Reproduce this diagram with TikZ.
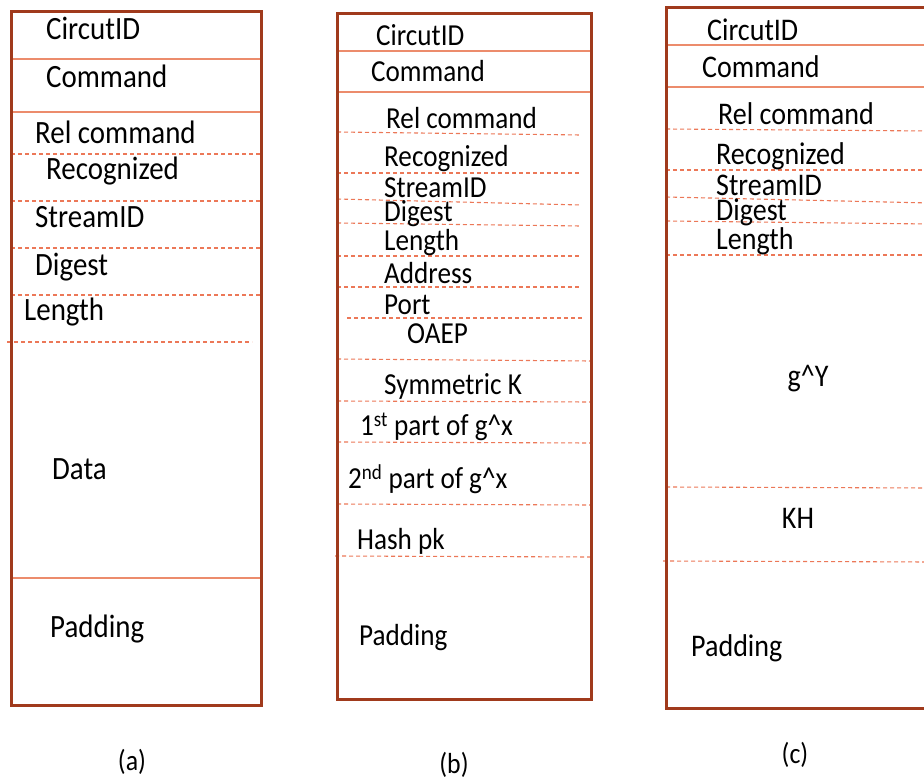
\documentclass[tikz,border=0pt]{standalone}
\usepackage{fontspec}
\setmainfont{Carlito}[FakeStretch=0.89]
\definecolor{bord}{RGB}{160,58,28}
\definecolor{sep}{RGB}{236,140,108}
\definecolor{dsh}{RGB}{236,120,88}
\begin{document}
\begin{tikzpicture}[x=1pt,y=-1pt,
  frame/.style={draw=bord,line width=3pt},
  solidsep/.style={draw=sep,line width=1.4pt},
  dashsep/.style={draw=dsh,line width=1.1pt,dash pattern=on 4pt off 3pt},
  lab/.style={anchor=west,inner sep=0pt,font=\fontsize{32.5}{33}\selectfont},
  labb/.style={anchor=west,inner sep=0pt,font=\fontsize{30.5}{31}\selectfont},
  labc/.style={anchor=west,inner sep=0pt,font=\fontsize{31.5}{32}\selectfont},
  captxt/.style={inner sep=0pt,font=\fontsize{29}{30}\selectfont}]
\useasboundingbox (0,0) rectangle (924,783);
\clip (0,0) rectangle (924,783);
\fill[white] (0,0) rectangle (924,783);
% ---------- (a) ----------
\draw[solidsep] (11,59) -- (261,59);
\draw[solidsep] (11,112) -- (261,112);
\draw[solidsep] (11,578) -- (261,578);
\foreach \yy in {154,201,248,295} \draw[dashsep] (11,\yy) -- (261,\yy);
\draw[dashsep] (7,342) -- (252,342);
\draw[frame] (11,12) rectangle (261,705);
\node[lab] (a1) at (46,28) {CircutID};
\node[lab] (a2) at (46,76) {Command};
\node[lab] (a3) at (35,132) {Rel command};
\node[lab] (a4) at (46,171) {Recognized};
\node[lab] (a5) at (35,217) {StreamID};
\node[lab] (a6) at (35,267) {Digest};
\node[lab] (a7) at (24,312) {Length};
\node[lab] (a8) at (52,469) {Data};
\node[lab] (a9) at (50,629) {Padding};
\node[captxt] (ca) at (132,762) {(a)};
% ---------- (b) ----------
\draw[solidsep] (337,51) -- (591,51);
\draw[solidsep] (337,92) -- (591,92);
\draw[dashsep] (337,132) -- (581,135);
\draw[dashsep] (337,173) -- (581,173);
\draw[dashsep] (337,199) -- (581,205);
\draw[dashsep] (337,223) -- (581,226);
\draw[dashsep] (337,256) -- (581,256);
\draw[dashsep] (337,287) -- (581,287);
\draw[dashsep] (347,318) -- (582,318);
\draw[dashsep] (337,359) -- (591,361);
\draw[dashsep] (337,401) -- (591,402);
\draw[dashsep] (337,442) -- (591,443);
\draw[dashsep] (337,504) -- (591,505);
\draw[dashsep] (335,556) -- (591,557);
\draw[frame] (337,14) rectangle (591,699);
\node[labb] (b1) at (376,35) {CircutID};
\node[labb] (b2) at (371,71) {Command};
\node[labb] (b3) at (386,118) {Rel command};
\node[labb] (b4) at (384,159) {Recognized};
\node[labb] (b5) at (384,188) {StreamID};
\node[labb] (b6) at (384,214) {Digest};
\node[labb] (b7) at (384,243) {Length};
\node[labb] (b8) at (384,273) {Address};
\node[labb] (b9) at (384,305) {Port};
\node[labb] (b10) at (407,334) {OAEP};
\node[labb] (b11) at (384,386) {Symmetric K};
\node[labb] (b12) at (360,427) {1\textsuperscript{st} part of g\textasciicircum x};
\node[labb] (b13) at (348,479) {2\textsuperscript{nd} part of g\textasciicircum x};
\node[labb] (b14) at (357,541) {Hash pk};
\node[labb] (b15) at (359,638) {Padding};
\node[captxt] (cb) at (454,765) {(b)};
% ---------- (c) ----------
\draw[solidsep] (666,45) -- (930,45);
\draw[solidsep] (666,87) -- (930,87);
\draw[dashsep] (666,129) -- (930,131);
\draw[dashsep] (666,170) -- (930,170);
\draw[dashsep] (666,197) -- (930,203);
\draw[dashsep] (666,221) -- (930,224);
\draw[dashsep] (666,255) -- (930,255);
\draw[dashsep] (666,487) -- (930,488);
\draw[dashsep] (663,561) -- (930,562);
\draw[frame] (666,8) rectangle (940,708);
\node[labc] (c1) at (707,30) {CircutID};
\node[labc] (c2) at (702,67) {Command};
\node[labc] (c3) at (718,114) {Rel command};
\node[labc] (c4) at (716,156) {Recognized};
\node[labc] (c5) at (716,185) {StreamID};
\node[labc] (c6) at (716,212) {Digest};
\node[labc] (c7) at (716,241) {Length};
\node[labc,anchor=center] (c8) at (808,379) {g\textasciicircum Y};
\node[labc,anchor=center] (c9) at (798,518) {KH};
\node[labc] (c10) at (691,648) {Padding};
\node[captxt] (cc) at (795,755) {(c)};
\end{tikzpicture}
\end{document}
